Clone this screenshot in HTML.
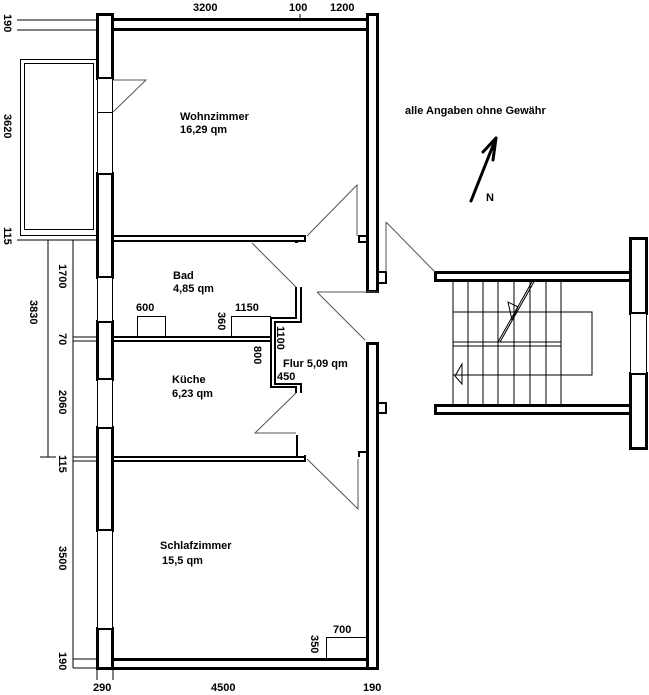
<!DOCTYPE html>
<html><head><meta charset="utf-8"><style>
html,body{margin:0;padding:0;background:#fff}
svg{display:block}
text{font-family:"Liberation Sans",sans-serif;font-size:11px;fill:#000}
</style></head><body>
<svg width="649" height="695" viewBox="0 0 649 695" xmlns="http://www.w3.org/2000/svg">
<g fill="#fff" stroke="#000" stroke-width="3">
<rect x="97.5" y="14.5" width="15" height="64"/>
<rect x="97.5" y="173.5" width="15" height="104"/>
<rect x="97.5" y="321.5" width="15" height="58"/>
<rect x="97.5" y="427.5" width="15" height="103"/>
<rect x="97.5" y="628.5" width="15" height="40"/>
<rect x="112.5" y="19.5" width="255" height="10"/>
<rect x="367.5" y="14.5" width="10" height="277"/>
<rect x="367.5" y="343.5" width="10" height="325"/>
<rect x="112.5" y="659.5" width="255" height="9"/>
<rect x="435.5" y="272.5" width="195" height="8"/>
<rect x="435.5" y="405.5" width="195" height="8"/>
<rect x="630.5" y="238.5" width="16" height="75"/>
<rect x="630.5" y="373.5" width="16" height="75"/>
</g>
<g fill="#fff" stroke="#000" stroke-width="1">
<rect x="97.5" y="78.5" width="15" height="34"/>
<rect x="97.5" y="112.5" width="15" height="61"/>
<rect x="97.5" y="277.5" width="15" height="44"/>
<rect x="97.5" y="379.5" width="15" height="48"/>
<rect x="97.5" y="530.5" width="15" height="98"/>
<rect x="630.5" y="313.5" width="16" height="60"/>
</g>
<g fill="none" stroke="#000" stroke-width="2">
<path d="M113 236H305V241H297V243"/>
<path d="M113 241H296V243"/>
<path d="M367 236H359V242H367"/>
<path d="M378 272H386V283H378"/>
<path d="M378 403H386V413H378"/>
<path d="M113 337H270M113 341H270"/>
<path d="M296 287V318H271V387H296V393"/>
<path d="M301 287V322H275V384H301V393"/>
<path d="M297 435V457"/>
<path d="M113 457H305V455M113 461H305V457"/>
<path d="M359 457V452H367"/>
</g>
<g fill="none" stroke="#555" stroke-width="1">
<path d="M113 80H146L113 112"/>
<path d="M307 236L357 185V236"/>
<path d="M252 243L296 287"/>
<path d="M317 292H378M317 292L365 340"/>
<path d="M296 393L255 433H296"/>
<path d="M307 459L358 509V459"/>
<path d="M386 222V272M386 222L435 272"/>
</g>
<g fill="none" stroke="#000" stroke-width="1">
<path d="M17 20H97M17 30H97M17 240H97"/>
<rect x="20.5" y="59.5" width="77" height="176"/>
<rect x="24.5" y="63.5" width="69" height="166"/>
<path d="M48 240V457M40 457H56M73 240V668M73 337H97M73 341H97M73 457H97M73 461H97M73 659H97M73 668H97M300 14V20M97 668V680M113 668V680"/>
<rect x="137.5" y="316.5" width="28" height="21"/>
<rect x="231.5" y="316.5" width="39" height="21"/>
<rect x="326.5" y="637.5" width="41" height="22"/>
<path d="M453 280V405M468 280V405M483 280V405M498 280V405M514 280V405M530 280V405M546 280V405M561 280V405"/>
<path d="M453 312H592V375H453M453 342H561M453 346H561"/>
<path d="M498 342L533 280M500 342L535 280"/>
<path d="M508 302L512 320L518 307ZM462 364L455 376L462 384Z"/>
</g>
<g stroke="#000" stroke-width="3" fill="none" stroke-linecap="round">
<path d="M471 201L496 138M496 138L483 152M496 138L493 160"/>
</g>
<g font-weight="bold">
<text x="193" y="11">3200</text>
<text x="289" y="11">100</text>
<text x="330" y="11">1200</text>
<text x="93" y="691">290</text>
<text x="211" y="691">4500</text>
<text x="363" y="691">190</text>
<text x="180" y="120">Wohnzimmer</text>
<text x="180" y="133">16,29 qm</text>
<text x="173" y="279">Bad</text>
<text x="173" y="292">4,85 qm</text>
<text x="136" y="311">600</text>
<text x="235" y="311">1150</text>
<text x="283" y="367">Flur 5,09 qm</text>
<text x="277" y="380">450</text>
<text x="172" y="383">Küche</text>
<text x="172" y="397">6,23 qm</text>
<text x="160" y="549">Schlafzimmer</text>
<text x="162" y="564">15,5 qm</text>
<text x="333" y="633">700</text>
<text x="486" y="201">N</text>
<text x="405" y="114" font-size="12.5">alle Angaben ohne Gewähr</text>
<text transform="translate(4,14) rotate(90)">190</text>
<text transform="translate(4,114) rotate(90)">3620</text>
<text transform="translate(4,227) rotate(90)">115</text>
<text transform="translate(59,264) rotate(90)">1700</text>
<text transform="translate(30,300) rotate(90)">3830</text>
<text transform="translate(59,333) rotate(90)">70</text>
<text transform="translate(59,390) rotate(90)">2060</text>
<text transform="translate(59,455) rotate(90)">115</text>
<text transform="translate(59,546) rotate(90)">3500</text>
<text transform="translate(59,652) rotate(90)">190</text>
<text transform="translate(218,312) rotate(90)">360</text>
<text transform="translate(277,326) rotate(90)">1100</text>
<text transform="translate(254,346) rotate(90)">800</text>
<text transform="translate(311,635) rotate(90)">350</text>
</g>
</svg>
</body></html>
